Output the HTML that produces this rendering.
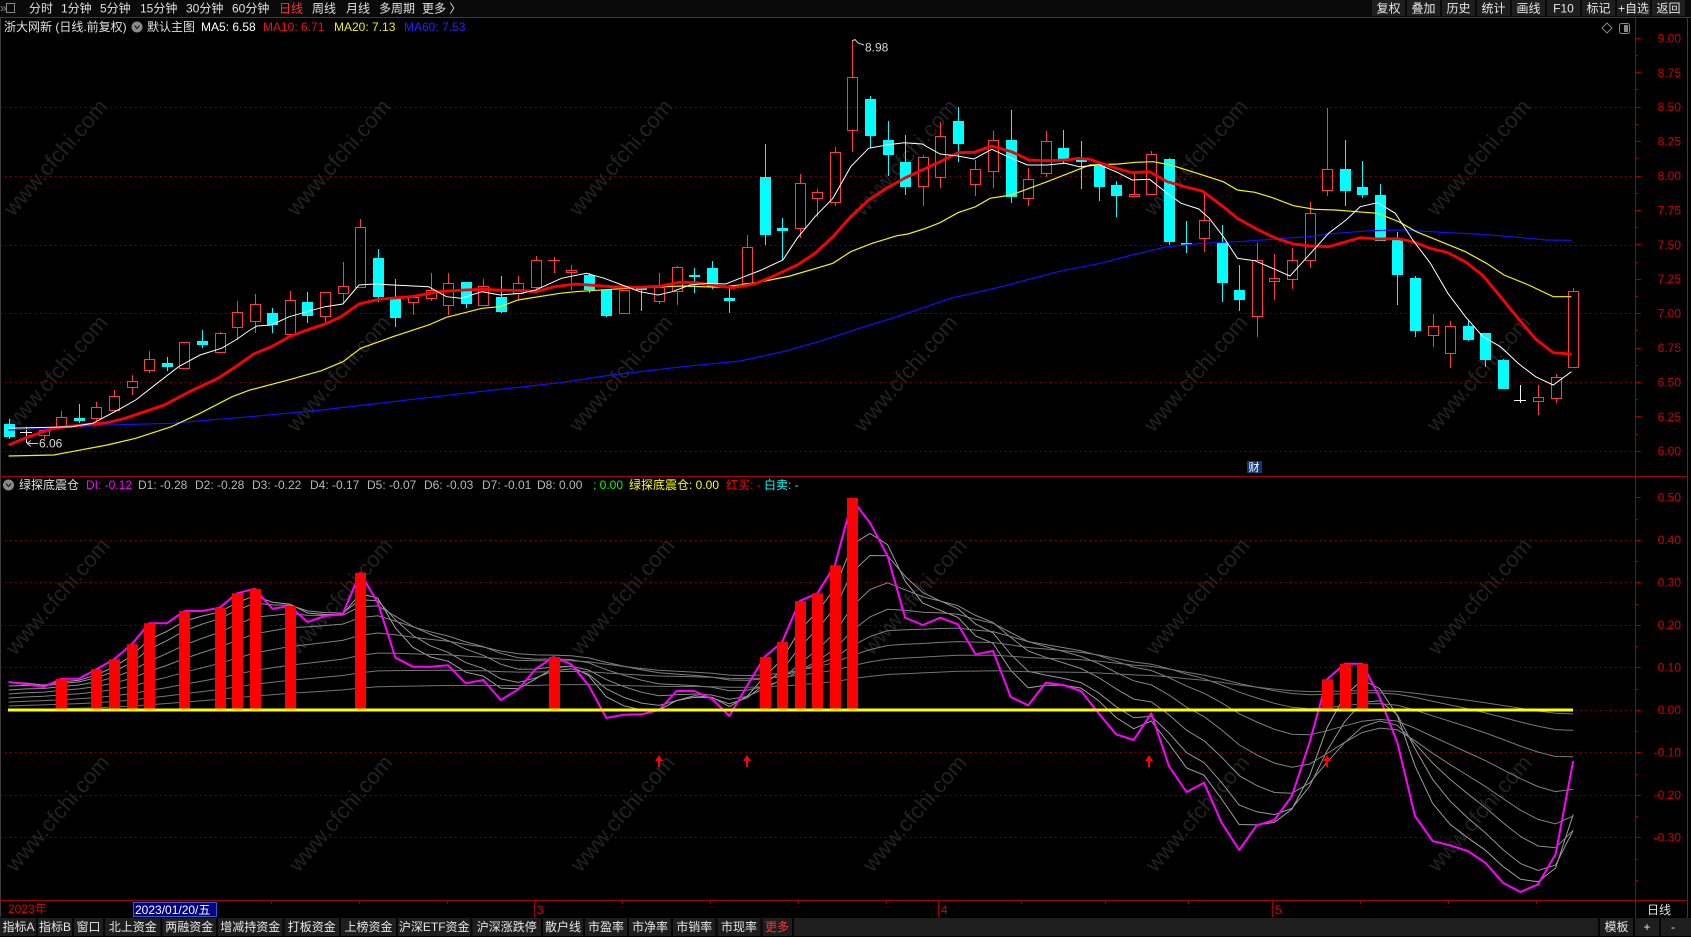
<!DOCTYPE html>
<html><head><meta charset="utf-8"><style>
html,body{margin:0;padding:0;background:#000;width:1691px;height:937px;overflow:hidden}
svg{display:block}
text{font-family:"Liberation Sans","Noto Sans CJK SC",sans-serif;font-size:12px}
</style></head><body>
<svg width="1691" height="937" viewBox="0 0 1691 937" xmlns="http://www.w3.org/2000/svg">
<rect width="1691" height="937" fill="#000"/>
<!-- top bar -->
<rect x="0" y="0" width="1691" height="17" fill="#0a0a0a"/>
<line x1="0" y1="17.5" x2="1691" y2="17.5" stroke="#3a3a3a"/>
<rect x="6.5" y="3.5" width="8" height="9" fill="none" stroke="#888"/>
<text x="0" y="12" fill="#888" font-size="9">»</text>
<g fill="#e0e0e0">
<text x="29" y="12.5">分时</text><text x="61" y="12.5">1分钟</text><text x="100" y="12.5">5分钟</text><text x="140" y="12.5">15分钟</text><text x="186" y="12.5">30分钟</text><text x="232" y="12.5">60分钟</text><text x="279" y="12.5" fill="#ff3030">日线</text><text x="312" y="12.5">周线</text><text x="346" y="12.5">月线</text><text x="379" y="12.5">多周期</text><text x="422" y="12.5">更多 〉</text>
</g>
<g fill="#1e1e1e">
<rect x="1372" y="0" width="33" height="16"/><rect x="1407" y="0" width="33" height="16"/><rect x="1442" y="0" width="33" height="16"/><rect x="1477" y="0" width="33" height="16"/><rect x="1512" y="0" width="33" height="16"/><rect x="1547" y="0" width="33" height="16"/><rect x="1582" y="0" width="33" height="16"/><rect x="1617" y="0" width="33" height="16"/><rect x="1652" y="0" width="33" height="16"/>
</g>
<g fill="#e6e6e6" text-anchor="middle">
<text x="1388.5" y="12.5">复权</text><text x="1423.5" y="12.5">叠加</text><text x="1458.5" y="12.5">历史</text><text x="1493.5" y="12.5">统计</text><text x="1528.5" y="12.5">画线</text><text x="1563.5" y="12.5">F10</text><text x="1598.5" y="12.5">标记</text><text x="1633.5" y="12.5">+自选</text><text x="1668.5" y="12.5">返回</text>
</g>
<!-- watermarks -->
<g fill="#222" text-anchor="middle" style="font-size:22px">
<text transform="translate(55,157) rotate(-49)" dy="8" style="font-size:22px">www.cfchi.com</text>
<text transform="translate(338,157) rotate(-49)" dy="8" style="font-size:22px">www.cfchi.com</text>
<text transform="translate(620,157) rotate(-49)" dy="8" style="font-size:22px">www.cfchi.com</text>
<text transform="translate(905,157) rotate(-49)" dy="8" style="font-size:22px">www.cfchi.com</text>
<text transform="translate(1195,157) rotate(-49)" dy="8" style="font-size:22px">www.cfchi.com</text>
<text transform="translate(1478,157) rotate(-49)" dy="8" style="font-size:22px">www.cfchi.com</text>
<text transform="translate(55,373) rotate(-49)" dy="8" style="font-size:22px">www.cfchi.com</text>
<text transform="translate(338,373) rotate(-49)" dy="8" style="font-size:22px">www.cfchi.com</text>
<text transform="translate(620,373) rotate(-49)" dy="8" style="font-size:22px">www.cfchi.com</text>
<text transform="translate(905,373) rotate(-49)" dy="8" style="font-size:22px">www.cfchi.com</text>
<text transform="translate(1195,373) rotate(-49)" dy="8" style="font-size:22px">www.cfchi.com</text>
<text transform="translate(1478,373) rotate(-49)" dy="8" style="font-size:22px">www.cfchi.com</text>
<text transform="translate(57,596) rotate(-49)" dy="8" style="font-size:22px">www.cfchi.com</text>
<text transform="translate(340,596) rotate(-49)" dy="8" style="font-size:22px">www.cfchi.com</text>
<text transform="translate(622,596) rotate(-49)" dy="8" style="font-size:22px">www.cfchi.com</text>
<text transform="translate(914,596) rotate(-49)" dy="8" style="font-size:22px">www.cfchi.com</text>
<text transform="translate(1197,596) rotate(-49)" dy="8" style="font-size:22px">www.cfchi.com</text>
<text transform="translate(1479,596) rotate(-49)" dy="8" style="font-size:22px">www.cfchi.com</text>
<text transform="translate(57,813) rotate(-49)" dy="8" style="font-size:22px">www.cfchi.com</text>
<text transform="translate(340,813) rotate(-49)" dy="8" style="font-size:22px">www.cfchi.com</text>
<text transform="translate(622,813) rotate(-49)" dy="8" style="font-size:22px">www.cfchi.com</text>
<text transform="translate(914,813) rotate(-49)" dy="8" style="font-size:22px">www.cfchi.com</text>
<text transform="translate(1197,813) rotate(-49)" dy="8" style="font-size:22px">www.cfchi.com</text>
<text transform="translate(1479,813) rotate(-49)" dy="8" style="font-size:22px">www.cfchi.com</text>
</g>
<!-- info row -->
<text x="4" y="31" fill="#e0e0e0">浙大网新 (日线.前复权)</text>
<circle cx="137" cy="27" r="5.5" fill="#8a8a8a"/><path d="M134.5,25.5L137,28.5L139.5,25.5" fill="none" stroke="#222" stroke-width="1.3"/>
<text x="147" y="31" fill="#e0e0e0">默认主图</text>
<text x="201" y="31" fill="#ffffff">MA5: 6.58</text>
<text x="263" y="31" fill="#f01010">MA10: 6.71</text>
<text x="334" y="31" fill="#f0f000">MA20: 7.13</text>
<text x="404" y="31" fill="#2222ff">MA60: 7.53</text>
<path d="M1607,23L1612,28L1607,33L1602,28Z" fill="none" stroke="#888"/>
<rect x="1619.5" y="23.5" width="10" height="10" rx="2" fill="none" stroke="#888"/><rect x="1624" y="25" width="4" height="7" fill="#888"/>
<!-- grid main -->
<g stroke="#8c0000" stroke-dasharray="1.5 3.5" stroke-width="1">
<line x1="0" y1="107.5" x2="1634" y2="107.5"/><line x1="0" y1="176.5" x2="1634" y2="176.5"/><line x1="0" y1="245.5" x2="1634" y2="245.5"/><line x1="0" y1="313.5" x2="1634" y2="313.5"/><line x1="0" y1="382.5" x2="1634" y2="382.5"/><line x1="0" y1="451.5" x2="1634" y2="451.5"/>
<line x1="0" y1="540.5" x2="1634" y2="540.5"/><line x1="0" y1="582.5" x2="1634" y2="582.5"/><line x1="0" y1="625.5" x2="1634" y2="625.5"/><line x1="0" y1="667.5" x2="1634" y2="667.5"/><line x1="0" y1="710.5" x2="1634" y2="710.5"/><line x1="0" y1="752.5" x2="1634" y2="752.5"/><line x1="0" y1="795.5" x2="1634" y2="795.5"/><line x1="0" y1="837.5" x2="1634" y2="837.5"/>
</g>
<!-- candles -->
<path fill="#00ffff" d="M4,424h11v13h-11z M74,418h11v3h-11z M162,363h11v4h-11z M197,341h11v4h-11z M267,313h11v12h-11z M302,302h11v14h-11z M373,258h11v39h-11z M390,299h11v19h-11z M461,282h11v22h-11z M496,297h11v15h-11z M584,275h11v15h-11z M601,290h11v26h-11z M636,287h11v3h-11z M689,275h11v2h-11z M707,268h11v19h-11z M724,298h11v3h-11z M760,177h11v58h-11z M777,228h11v3h-11z M865,99h11v37h-11z M883,140h11v15h-11z M900,162h11v25h-11z M953,121h11v23h-11z M1006,140h11v57h-11z M1058,148h11v11h-11z M1076,160h11v2h-11z M1094,166h11v21h-11z M1111,185h11v11h-11z M1164,159h11v83h-11z M1181,243h11v2h-11z M1217,242h11v41h-11z M1234,290h11v10h-11z M1340,169h11v22h-11z M1357,187h11v8h-11z M1375,195h11v46h-11z M1392,239h11v36h-11z M1410,278h11v53h-11z M1463,326h11v14h-11z M1480,333h11v27h-11z M1498,360h11v29h-11z"/>
<path fill="none" stroke="#00ffff" stroke-width="1" d="M9.5,419V439 M79.5,404V423 M167.5,357V371 M202.5,330V348 M272.5,308V333 M307.5,292V323 M378.5,249V302 M395.5,279V327 M466.5,282V308 M501.5,276V313 M589.5,273V293 M606.5,290V317 M641.5,287V311 M694.5,268V293 M712.5,261V289 M729.5,288V313 M765.5,144V245 M782.5,218V260 M870.5,96V148 M888.5,121V176 M905.5,135V195 M958.5,107V162 M1011.5,110V203 M1063.5,130V163 M1081.5,141V189 M1099.5,163V201 M1116.5,181V217 M1169.5,158V245 M1186.5,221V253 M1222.5,225V302 M1239.5,265V311 M1345.5,140V206 M1362.5,161V198 M1380.5,184V241 M1397.5,232V305 M1415.5,276V337 M1468.5,320V341 M1485.5,333V367 M1503.5,359V389"/>
<path fill="none" stroke="#ff3c3c" stroke-width="1" d="M39.5,430.5h10v5h-10z M56.5,417.5h10v10h-10z M91.5,407.5h10v11h-10z M109.5,396.5h10v14h-10z M127.5,381.5h10v6h-10z M144.5,359.5h10v11h-10z M179.5,342.5h10v26h-10z M215.5,333.5h10v19h-10z M232.5,312.5h10v15h-10z M250.5,304.5h10v17h-10z M285.5,300.5h10v34h-10z M320.5,292.5h10v24h-10z M338.5,286.5h10v7h-10z M355.5,227.5h10v60h-10z M408.5,297.5h10v5h-10z M426.5,290.5h10v8h-10z M443.5,283.5h10v22h-10z M478.5,286.5h10v19h-10z M513.5,283.5h10v10h-10z M531.5,260.5h10v27h-10z M566.5,270.5h10v2h-10z M619.5,290.5h10v23h-10z M654.5,287.5h10v14h-10z M672.5,267.5h10v24h-10z M742.5,247.5h10v36h-10z M795.5,183.5h10v45h-10z M812.5,192.5h10v6h-10z M830.5,152.5h10v50h-10z M847.5,77.5h10v53h-10z M918.5,157.5h10v29h-10z M935.5,136.5h10v41h-10z M970.5,169.5h10v15h-10z M988.5,140.5h10v31h-10z M1023.5,179.5h10v19h-10z M1041.5,141.5h10v32h-10z M1129.5,194.5h10v2h-10z M1146.5,154.5h10v40h-10z M1199.5,220.5h10v18h-10z M1252.5,260.5h10v56h-10z M1269.5,278.5h10v3h-10z M1287.5,260.5h10v19h-10z M1305.5,213.5h10v47h-10z M1322.5,169.5h10v21h-10z M1428.5,326.5h10v9h-10z M1445.5,326.5h10v27h-10z M1533.5,397.5h10v4h-10z M1551.5,377.5h10v21h-10z M1568.5,291.5h10v76h-10z
M44.5,429V430M44.5,435V439 M61.5,411V417M61.5,427V428 M96.5,402V407M96.5,418V422 M114.5,390V396M114.5,410V412 M132.5,375V381M132.5,387V395 M149.5,351V359M149.5,370V373 M220.5,332V333 M237.5,301V312M237.5,327V340 M255.5,294V304M255.5,321V333 M290.5,291V300M290.5,334V335 M325.5,316V323 M343.5,262V286M343.5,293V304 M360.5,219V227M360.5,287V288 M413.5,302V315 M431.5,273V290M431.5,298V301 M448.5,273V283M448.5,305V315 M483.5,279V286 M518.5,276V283M518.5,293V300 M536.5,256V260M536.5,287V293 M571.5,265V270M571.5,273V290 M659.5,273V287M659.5,301V304 M677.5,266V267M677.5,291V305 M747.5,235V247 M800.5,174V183M800.5,228V238 M817.5,189V192M817.5,198V217 M835.5,147V152M835.5,202V206 M852.5,41V77M852.5,130V152 M923.5,155V157M923.5,186V206 M940.5,122V136M940.5,177V188 M975.5,160V169M975.5,184V196 M993.5,131V140M993.5,171V188 M1028.5,168V179M1028.5,198V206 M1046.5,131V141M1046.5,173V177 M1134.5,172V194M1134.5,196V197 M1151.5,151V154 M1204.5,191V220M1204.5,238V252 M1257.5,243V260M1257.5,316V337 M1274.5,254V278M1274.5,281V300 M1292.5,248V260M1292.5,279V289 M1310.5,202V213M1310.5,260V268 M1327.5,108V169M1327.5,190V196 M1433.5,314V326M1433.5,335V347 M1450.5,321V326M1450.5,353V368 M1538.5,385V397M1538.5,401V415 M1556.5,374V377M1556.5,398V403 M1573.5,288V291M1573.5,367V368 M548,260.5H560 M554.5,257V273"/>
<path fill="none" stroke="#f0f0f0" stroke-width="1" d="M20,432.5H32 M26.5,427V443 M1514,400.5H1526 M1520.5,385V403"/>
<!-- MAs -->
<polyline fill="none" stroke="#1010ff" stroke-width="1.2" points="8.6,430 53.6,428.3 107.1,425 171.4,423.3 250,416.7 321.4,410 392.9,401.7 464.3,393.3 560,382.7 611.4,375 682.9,366.7 740,361 782.9,351.7 818.6,341.7 861.4,327.7 897.1,316.7 950.7,298.3 1004.3,286 1057.9,271.7 1100,263.3 1132.1,255 1167.2,246.7 1202.3,243.3 1237.4,241.7 1272.5,239.3 1307.5,236.7 1335.6,233.3 1370.7,230.7 1405.8,230 1440.9,232.3 1476,234 1511.1,236.7 1546.1,240 1571.4,240.3"/>
<polyline fill="none" stroke="#f5f500" stroke-width="1.2" points="8.6,456 53.6,455 71.4,451.7 107.1,445 135.7,438.3 171.4,426.7 200,413.3 232.1,396.7 250,390 285.7,380.7 321.4,370.7 342.9,361.7 360.7,348.3 392.9,336.7 428.6,325 446.4,317.3 482.1,308.3 500,306.7 517.9,300 560,293.3 575.7,291.7 611.4,289.3 647.1,287.3 682.9,286 718.6,287.3 740,285 761.4,281.7 790,276 832.9,263.3 850.7,251.7 872.1,243.3 897.1,235.7 907.9,234 925.7,228.3 940,222.7 957.9,212.7 975.7,206.7 990,198.3 1011.4,195 1029.3,188.3 1047.1,181.7 1068.6,173.3 1090,165 1118,164 1135.6,162.3 1153.2,161.7 1170.7,165 1195.3,172.7 1223.3,181.7 1237.4,190 1254.9,192.3 1272.5,197.7 1293.5,205.7 1314.6,209.3 1335.6,210 1356.7,211.7 1377.7,213.3 1398.8,221.7 1416.3,231.7 1440.9,241.7 1465.4,251.7 1486.5,263.3 1504,275 1528.6,285 1553.2,296.7 1571.4,296.7"/>
<polyline fill="none" stroke="#ff0000" stroke-width="2.8" stroke-linejoin="round" points="8.6,445 28.6,436.7 53.6,428.3 71.4,426 107.1,422.7 125,418.3 164.3,405 189.3,391.7 217.9,378.3 235.7,366.7 253.6,354 271.4,346.7 289.3,336.7 307.1,330 325,324 341.1,316.7 358.9,304 378.6,299.3 410.7,296.7 439.3,291.7 464.3,290 482.1,289.3 500,290 525,290.7 535.7,291.7 554.3,286.7 575.7,284 611.4,286.7 640,287.3 661.4,286 679.3,282.3 697.1,282.7 718.6,286 732.9,287.7 754.3,284 772.1,276.7 797.1,265 815,253.3 832.9,236.7 850.7,216.7 868.6,200 886.4,188.3 904.3,178.3 922.1,170 940,161.7 957.9,152.7 973.9,152.3 991.8,146 1011.4,151.7 1029.3,160 1047.1,160.7 1065,160 1079.3,158.3 1090,159.3 1111,166.7 1132.1,172.7 1149.6,171.7 1167.2,181.7 1184.7,186.7 1202.3,191 1223.3,206.7 1237.4,218.3 1258.4,230 1276,238.3 1293.5,244 1311.1,246 1328.6,246.7 1342.6,242.7 1360.2,237.7 1377.7,239 1398.8,238.7 1412.8,241.7 1430.4,248.3 1447.9,252.7 1465.4,261.7 1483,275.7 1500.5,296.7 1518.1,318.3 1535.6,339 1553.2,352.7 1571.4,354"/>
<polyline fill="none" stroke="#ffffff" stroke-width="1" points="8.6,428.3 71.4,426.7 92.9,423.3 117.9,410 135.7,400 157.1,383.3 178.6,366.7 200,355 221.4,348.3 235.7,340 250,330 257.1,326 271.4,325 289.3,316.7 307.1,311.7 325,306.7 342.9,304 358.9,285 375,284 392.9,285 428.6,286.7 446.4,296.7 460.7,298.3 482.1,291.7 500,295 521.4,293.3 535.7,290 561.4,278.3 586.4,273.3 604.3,278.3 622.1,285 640,291.7 657.9,295 672.1,291.7 690,285 707.9,283.3 725.7,284 740,278.3 761.4,270 782.9,260 797.1,238.3 815,216.7 832.9,198.3 850.7,166.7 868.6,148.3 886.4,145 904.3,142.7 922.1,144 940,154 957.9,156 973.9,159 991.8,149.3 1011.4,158.3 1027.5,165 1047.1,165 1065,163.3 1079.3,166.7 1100,165 1118,172.7 1132.1,180 1149.6,179.3 1167.2,193.3 1181.2,203.3 1198.8,209 1209.3,218.3 1223.3,236.7 1237.4,258.3 1254.9,260.7 1272.5,268.3 1290,276 1307.5,256.7 1328.6,233.3 1346.1,220 1360.2,206.7 1377.7,202.7 1395.3,213.3 1412.8,240 1430.4,263.3 1447.9,293.3 1465.4,316.7 1483,336.7 1500.5,346.7 1518.1,363.3 1535.6,376.7 1553.2,385 1571.4,371.7"/>
<!-- hi/lo labels -->
<path d="M852,41L855,39.5L858,43L864,45" fill="none" stroke="#d0d0d0"/>
<text x="865" y="51.5" fill="#d8d8d8">8.98</text>
<path d="M27,443.5H38 M27,443.5L31,440.5 M27,443.5L31,446.5" fill="none" stroke="#d0d0d0"/>
<text x="39" y="447.5" fill="#d8d8d8">6.06</text>
<rect x="1247" y="461" width="15" height="12" fill="#103a78"/>
<text x="1248.5" y="471" fill="#ffffff" style="font-size:11px">财</text>
<!-- bottom panel -->
<text x="19" y="489" fill="#e0e0e0">绿探底震仓</text>
<circle cx="8.5" cy="485" r="5.5" fill="#8a8a8a"/><path d="M6,483.5L8.5,486.5L11,483.5" fill="none" stroke="#222" stroke-width="1.3"/>
<text x="86" y="489" fill="#ff00ff">DI: -0.12</text>
<g fill="#b8b8b8">
<text x="138" y="489">D1: -0.28</text><text x="195" y="489">D2: -0.28</text><text x="252" y="489">D3: -0.22</text><text x="310" y="489">D4: -0.17</text><text x="367" y="489">D5: -0.07</text><text x="424" y="489">D6: -0.03</text><text x="482" y="489">D7: -0.01</text><text x="537" y="489">D8: 0.00</text>
</g>
<text x="593" y="489" fill="#00ff00">: 0.00</text>
<text x="629" y="489" fill="#ffff00">绿探底震仓: 0.00</text>
<text x="726" y="489" fill="#ff0000">红买: -</text>
<text x="764" y="489" fill="#00ffff">白卖: -</text>
<g id="gl"></g>
<polyline fill="none" stroke="#ff00ff" stroke-width="2" stroke-linejoin="round" points="8.6,682 26.2,684.3 43.8,687 61.3,678.7 78.9,678.7 96.5,669.3 114.1,659.3 131.7,644.3 149.2,623.3 166.8,623.3 184.4,611 202,611 219.6,607.7 237.1,593.3 254.7,588.7 272.3,608.7 289.9,606 307.5,622 325,616 342.6,614.3 360.2,572.7 377.8,602.7 395.4,657.7 412.9,666.7 430.5,666.7 448.1,665.3 465.7,683.3 483.3,680 500.8,700 518.4,689.3 536,668.7 553.6,657 571.2,664.3 588.7,685.3 606.3,718 623.9,714.7 641.5,714.3 659.1,710 676.6,691 694.2,691 711.8,698.7 729.4,716 747,686 764.5,657 782.1,642 799.7,601 817.3,593.3 834.9,565.3 852.4,500 870,522.7 887.6,556 905.2,617.7 922.8,625 940.3,617.7 957.9,624.3 975.5,654.3 993.1,651 1010.7,697 1028.2,705.3 1045.8,682.7 1063.4,685 1081,691 1098.6,713.3 1116.1,734.3 1133.7,740 1151.3,713.3 1168.9,766 1186.5,792 1204,782.7 1221.6,822.7 1239.2,850 1256.8,825.3 1274.4,820 1291.9,796 1309.5,742.7 1327.1,679.3 1344.7,663.7 1362.3,663.7 1379.8,697.7 1397.4,742.7 1415,816 1432.6,841 1450.2,845.3 1467.7,851 1485.3,862.7 1502.9,882.7 1520.5,892 1538.1,884.3 1555.6,854.3 1573.2,761"/>
<path fill="#ff0000" d="M56,678.7h11V710h-11z M91,669.3h11V710h-11z M109,659.3h11V710h-11z M127,644.3h11V710h-11z M144,623.3h11V710h-11z M179,611h11V710h-11z M215,607.7h11V710h-11z M232,593.3h11V710h-11z M250,588.7h11V710h-11z M285,606h11V710h-11z M355,572.7h11V710h-11z M549,657h11V710h-11z M760,657h11V710h-11z M777,642h11V710h-11z M795,601h11V710h-11z M812,593.3h11V710h-11z M830,565.3h11V710h-11z M847,498h11V710h-11z M1322,679.3h11V710h-11z M1340,663.7h11V710h-11z M1357,663.7h11V710h-11z"/>
<line x1="8" y1="710" x2="1573" y2="710" stroke="#ffff00" stroke-width="3"/>
<path fill="#ff0000" d="M659,755L655,761H658V767H660V761H663Z M747,755L743,761H746V767H748V761H751Z M1149,755L1145,761H1148V767H1150V761H1153Z M1327,755L1323,761H1326V767H1328V761H1331Z"/>
<!-- frames and axes -->
<line x1="0.5" y1="18" x2="0.5" y2="917" stroke="#3c3c3c"/>
<line x1="0" y1="476.5" x2="1687" y2="476.5" stroke="#a00000"/>
<line x1="0" y1="900.5" x2="1687" y2="900.5" stroke="#a00000"/>
<line x1="1635.5" y1="18" x2="1635.5" y2="918" stroke="#a00000"/>
<line x1="1687.5" y1="18" x2="1687.5" y2="918" stroke="#3a3a3a"/>
<path stroke="#a00000" fill="none" d="M1635,38.5h6M1635,72.5h6M1635,107.5h6M1635,141.5h6M1635,176.5h6M1635,210.5h6M1635,244.5h6M1635,279.5h6M1635,313.5h6M1635,348.5h6M1635,382.5h6M1635,416.5h6M1635,451.5h6 M1635,55.5h3M1635,89.5h3M1635,124.5h3M1635,158.5h3M1635,193.5h3M1635,227.5h3M1635,262.5h3M1635,296.5h3M1635,330.5h3M1635,365.5h3M1635,399.5h3M1635,434.5h3 M1635,497.5h6M1635,540.5h6M1635,582.5h6M1635,625.5h6M1635,667.5h6M1635,710.5h6M1635,752.5h6M1635,795.5h6M1635,837.5h6 M1635,519.5h3M1635,561.5h3M1635,604.5h3M1635,646.5h3M1635,689.5h3M1635,731.5h3M1635,774.5h3M1635,816.5h3M1635,859.5h3M1635,880.5h3"/>
<g fill="#d00000" text-anchor="end">
<text x="1681" y="42.5">9.00</text><text x="1681" y="76.8">8.75</text><text x="1681" y="111.2">8.50</text><text x="1681" y="145.6">8.25</text><text x="1681" y="180">8.00</text><text x="1681" y="214.4">7.75</text><text x="1681" y="248.8">7.50</text><text x="1681" y="283.2">7.25</text><text x="1681" y="317.6">7.00</text><text x="1681" y="352">6.75</text><text x="1681" y="386.4">6.50</text><text x="1681" y="420.8">6.25</text><text x="1681" y="455.2">6.00</text>
<text x="1681" y="501.5">0.50</text><text x="1681" y="544">0.40</text><text x="1681" y="586.5">0.30</text><text x="1681" y="629">0.20</text><text x="1681" y="671.5">0.10</text><text x="1681" y="714">0.00</text><text x="1681" y="756.5">-0.10</text><text x="1681" y="799">-0.20</text><text x="1681" y="841.5">-0.30</text>
</g>
<!-- time axis -->
<path stroke="#a00000" fill="none" d="M179.5,900V904M271.5,900V904M359.5,900V904M447.5,900V904M622.5,900V904M710.5,900V904M798.5,900V904M886.5,900V904M1021.5,900V904M1105.5,900V904M1188.5,900V904M1360.5,900V904M1448.5,900V904M1536.5,900V904 M534.5,900V917M938.5,900V917M1272.5,900V917"/>
<text x="8" y="913" fill="#e00000">2023年</text>
<rect x="133.5" y="902.5" width="83" height="14" fill="#000080" stroke="#3a5ad0"/>
<text x="135" y="914" fill="#ffffff">2023/01/20/五</text>
<text x="537" y="914" fill="#e00000">3</text><text x="941" y="914" fill="#e00000">4</text><text x="1275" y="914" fill="#e00000">5</text>
<text x="1647" y="914" fill="#e0e0e0">日线</text>
<!-- bottom toolbar -->
<rect x="0" y="918" width="1691" height="18" fill="#1e1e1e"/>
<path stroke="#050505" stroke-width="2" d="M37,918V936M73,918V936M104,918V936M161.5,918V936M217,918V936M283.5,918V936M340,918V936M397,918V936M471.5,918V936M542,918V936M584,918V936M628,918V936M672,918V936M716.5,918V936M761.5,918V936M793,918V936M1599,918V936M1634,918V936M1660,918V936"/>
<g fill="#e6e6e6" text-anchor="middle">
<text x="18.5" y="931">指标A</text><text x="55" y="931">指标B</text><text x="88.5" y="931">窗口</text><text x="132.7" y="931">北上资金</text><text x="189.2" y="931">两融资金</text><text x="250.2" y="931">增减持资金</text><text x="311.7" y="931">打板资金</text><text x="368.5" y="931">上榜资金</text><text x="434.2" y="931">沪深ETF资金</text><text x="506.7" y="931">沪深涨跌停</text><text x="563" y="931">散户线</text><text x="606" y="931">市盈率</text><text x="650" y="931">市净率</text><text x="694.2" y="931">市销率</text><text x="739" y="931">市现率</text><text x="777" y="931" fill="#ff3030">更多</text>
<text x="1616.5" y="931">模板</text><text x="1647" y="931">+</text><text x="1673" y="931">-</text>
</g>
<rect x="0" y="936" width="1691" height="1" fill="#000"/>
</svg>
<script>
(function(){
var Y=[682,684.3,687,678.7,678.7,669.3,659.3,644.3,623.3,623.3,611,611,607.7,593.3,588.7,608.7,606,622,616,614.3,572.7,602.7,657.7,666.7,666.7,665.3,683.3,680,700,689.3,668.7,657,664.3,685.3,718,714.7,714.3,710,691,691,698.7,716,686,657,642,601,593.3,565.3,500,522.7,556,617.7,625,617.7,624.3,654.3,651,697,705.3,682.7,685,691,713.3,734.3,740,713.3,766,792,782.7,822.7,850,825.3,820,796,742.7,679.3,663.7,663.7,697.7,742.7,816,841,845.3,851,862.7,882.7,892,884.3,854.3,761];
var g=document.getElementById('gl');
var Ns=[3,5,9,15,26,45,75,130];
var cols=['#a0a0a0','#959595','#8c8c8c','#858585','#808080','#7a7a7a','#767676','#727272'];
for(var k=0;k<Ns.length;k++){
 var a=2/(Ns[k]+1);var e=((710-Y[0])/425)*(1-k/7);var pts=[];
 for(var i=0;i<Y.length;i++){var v=(710-Y[i])/425;if(i>0)e=e+a*(v-e);pts.push((8.6+17.58*i).toFixed(1)+','+(710-e*425).toFixed(1));}
 var p=document.createElementNS('http://www.w3.org/2000/svg','polyline');
 p.setAttribute('points',pts.join(' '));p.setAttribute('fill','none');p.setAttribute('stroke',cols[k]);p.setAttribute('stroke-width','1');
 g.appendChild(p);
}
})();
</script>
</body></html>
